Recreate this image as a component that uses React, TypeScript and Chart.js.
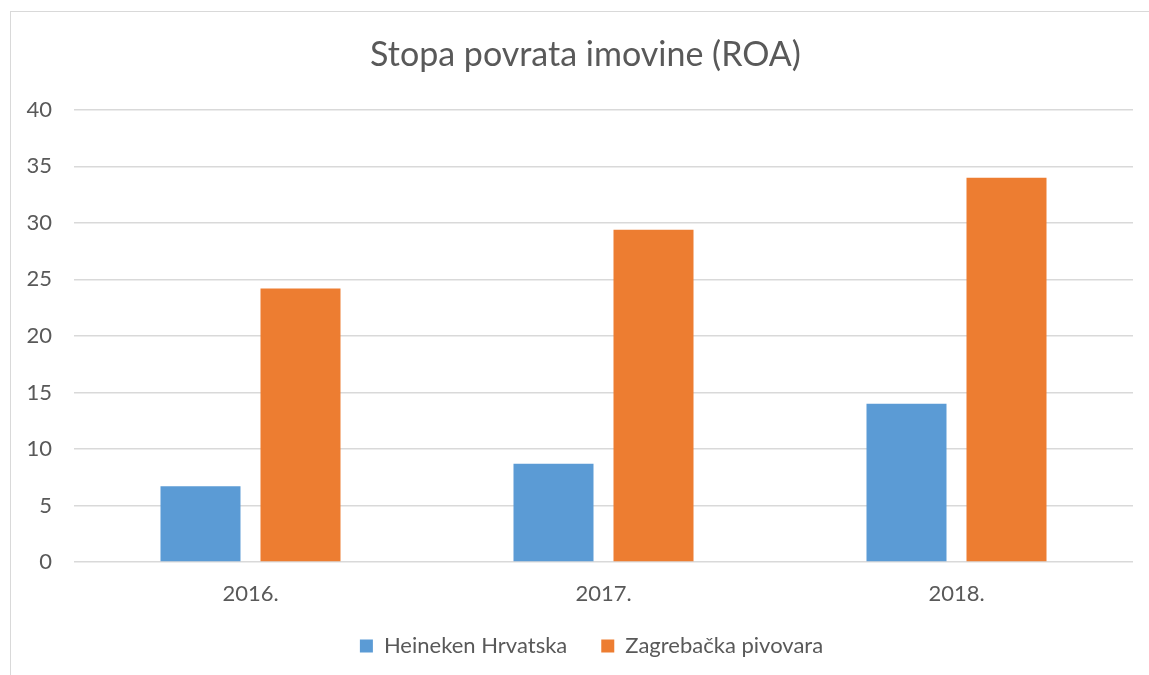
import React, { useEffect, useRef } from "react";
import { Chart, registerables } from "chart.js";

Chart.register(...registerables);

const categories = ["2016.", "2017.", "2018."];
const heineken = [6.7, 8.7, 14.0];
const zagrebacka = [24.2, 29.4, 34.0];
const seriesNames = ["Heineken Hrvatska", "Zagrebačka pivovara"];
const titleText = "Stopa povrata imovine (ROA)";

const FONT = "Lato, 'Open Sans', sans-serif";
const TEXT = "#595959";

// shifts the centred title and legend to where the reference places them
const shiftPlugin = {
  id: "shiftBoxes",
  afterLayout(chart: any) {
    if (chart.titleBlock) {
      chart.titleBlock.left += 14;
      chart.titleBlock.right += 14;
    }
    if (chart.legend) {
      chart.legend.left += 20;
      chart.legend.right += 20;
    }
  },
};

export default function App() {
  const ref = useRef<HTMLCanvasElement | null>(null);
  useEffect(() => {
    if (!ref.current) return;
    const chart = new Chart(ref.current, {
      type: "bar",
      data: {
        labels: categories,
        datasets: [
          {
            label: seriesNames[0],
            data: heineken,
            backgroundColor: "#5B9BD5",
            borderWidth: 0,
            categoryPercentage: 0.5666,
            barPercentage: 0.8,
          },
          {
            label: seriesNames[1],
            data: zagrebacka,
            backgroundColor: "#ED7D31",
            borderWidth: 0,
            categoryPercentage: 0.5666,
            barPercentage: 0.8,
          },
        ],
      },
      plugins: [shiftPlugin],
      options: {
        animation: false,
        responsive: false,
        maintainAspectRatio: false,
        layout: { padding: { left: 10, right: 16, top: 0, bottom: 8 } },
        plugins: {
          title: {
            display: true,
            text: titleText,
            color: TEXT,
            font: { family: FONT, size: 34, weight: "normal" },
            padding: { top: 35, bottom: 34 },
          },
          legend: {
            position: "bottom",
            labels: {
              color: TEXT,
              font: { family: FONT, size: 22 },
              boxWidth: 13,
              boxHeight: 13,
              padding: 34,
            },
          },
          tooltip: { enabled: false },
        },
        scales: {
          x: {
            grid: { display: false, drawTicks: false },
            border: { display: false },
            ticks: { color: TEXT, font: { family: FONT, size: 22 }, padding: 19 },
            afterFit: (s: any) => {
              s.height = 39;
            },
          },
          y: {
            min: 0,
            max: 40,
            grid: { color: "#d9d9d9", lineWidth: 1.5, drawTicks: false },
            border: { display: false },
            ticks: { stepSize: 5, color: TEXT, font: { family: FONT, size: 22 }, padding: 22 },
            afterFit: (s: any) => {
              s.width = 64;
            },
          },
        },
      },
    });
    return () => chart.destroy();
  }, []);
  return (
    <div style={{ position: "absolute", left: 0, top: 0, width: 1149, height: 675, background: "#fff", overflow: "hidden" }}>
      <div
        style={{
          position: "absolute",
          left: 10,
          top: 11,
          width: 1200,
          height: 700,
          borderLeft: "1px solid #d9d9d9",
          borderTop: "1px solid #d9d9d9",
        }}
      />
      <canvas ref={ref} width={1149} height={675} style={{ position: "absolute", left: 0, top: 0 }} />
    </div>
  );
}
